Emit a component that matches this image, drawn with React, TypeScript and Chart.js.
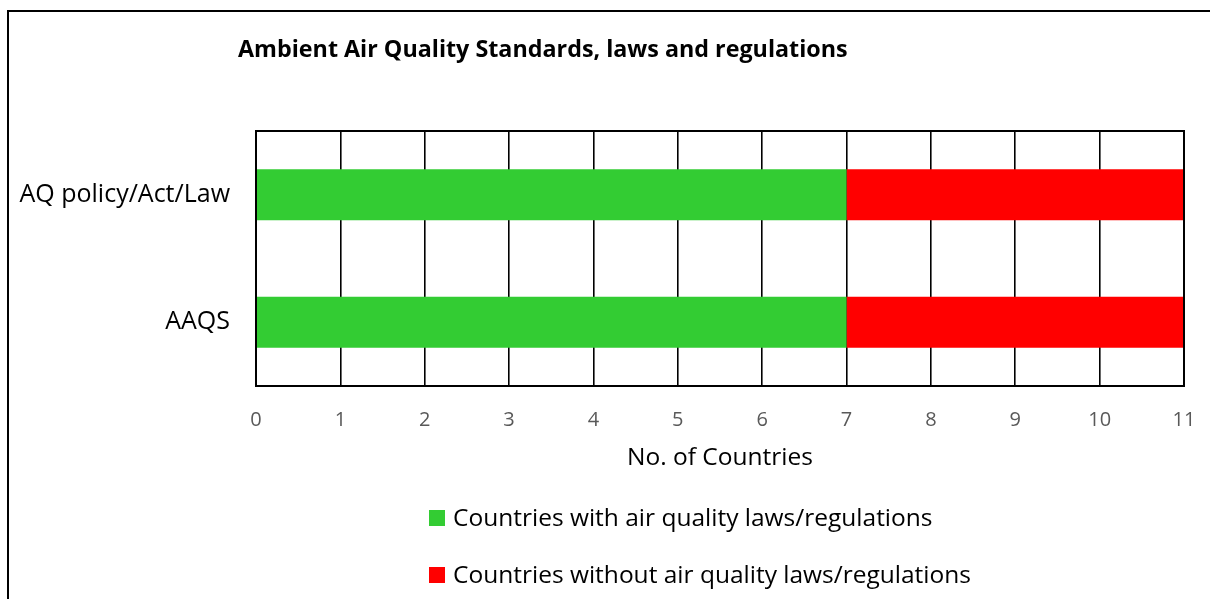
import React, { useEffect, useRef } from "react";
import { Chart, registerables } from "chart.js";

Chart.register(...registerables);

const categories = ["AQ policy/Act/Law", "AAQS"];
const withLaws = [7, 7];
const withoutLaws = [4, 4];
const seriesLabels = [
  "Countries with air quality laws/regulations",
  "Countries without air quality laws/regulations",
];
const seriesColors = ["#33CC33", "#FF0000"];
const chartTitle = "Ambient Air Quality Standards, laws and regulations";
const xAxisTitle = "No. of Countries";
const xMin = 0;
const xMax = 11;

const FONT = "'Open Sans', Lato, sans-serif";

const framePlugin = {
  id: "frame",
  afterDraw(chart: any) {
    const { ctx, chartArea } = chart;
    ctx.save();
    ctx.strokeStyle = "#000";
    ctx.lineWidth = 2;
    ctx.strokeRect(chartArea.left, chartArea.top, chartArea.right - chartArea.left, chartArea.bottom - chartArea.top);
    ctx.restore();
  },
};

const titlePlugin = {
  id: "customTitle",
  afterDraw(chart: any) {
    const { ctx } = chart;
    ctx.save();
    ctx.fillStyle = "#000";
    ctx.font = `bold 23.3px ${FONT}`;
    ctx.textBaseline = "alphabetic";
    ctx.textAlign = "left";
    ctx.fillText(chartTitle, 229, 45);
    ctx.restore();
  },
};

const legendPlugin = {
  id: "customLegend",
  afterDraw(chart: any) {
    const { ctx } = chart;
    ctx.save();
    const left = 420;
    const firstCenter = 506;
    const rowGap = 57;
    const box = 16;
    chart.data.datasets.forEach((ds: any, i: number) => {
      const cy = firstCenter + i * rowGap;
      ctx.fillStyle = ds.backgroundColor;
      ctx.fillRect(left, cy - box / 2, box, box);
      ctx.fillStyle = "#000";
      ctx.font = `24.5px ${FONT}`;
      ctx.textBaseline = "middle";
      ctx.textAlign = "left";
      ctx.fillText(ds.label, left + 24, cy + 1);
    });
    ctx.restore();
  },
};

export default function App() {
  const ref = useRef<HTMLCanvasElement>(null);

  useEffect(() => {
    if (!ref.current) return;
    const chart = new Chart(ref.current, {
      type: "bar",
      data: {
        labels: categories,
        datasets: [
          {
            label: seriesLabels[0],
            data: withLaws,
            backgroundColor: seriesColors[0],
            barPercentage: 0.4,
            categoryPercentage: 1,
          },
          {
            label: seriesLabels[1],
            data: withoutLaws,
            backgroundColor: seriesColors[1],
            barPercentage: 0.4,
            categoryPercentage: 1,
          },
        ],
      },
      options: {
        indexAxis: "y",
        responsive: false,
        animation: false,
        devicePixelRatio: 1,
        layout: { padding: { top: 119, right: 26, left: 0, bottom: 126 } },
        plugins: {
          legend: { display: false },
          title: { display: false },
          tooltip: { enabled: false },
        },
        scales: {
          x: {
            stacked: true,
            min: xMin,
            max: xMax,
            afterFit: (scale: any) => {
              scale.height = 87;
            },
            ticks: {
              stepSize: 1,
              color: "#595959",
              font: { family: FONT, size: 20 },
              padding: 2,
            },
            grid: {
              color: "#000",
              lineWidth: 1.6,
              drawTicks: true,
              tickLength: 20,
              tickColor: "rgba(0,0,0,0)",
            },
            border: { display: false },
            title: {
              display: true,
              text: xAxisTitle,
              color: "#000",
              font: { family: FONT, size: 24.5 },
              padding: 0,
            },
          },
          y: {
            stacked: true,
            afterFit: (scale: any) => {
              scale.width = 247;
            },
            ticks: {
              color: "#000",
              font: { family: FONT, size: 25 },
              padding: 26,
            },
            grid: { display: false, drawTicks: false },
            border: { display: false },
          },
        },
      },
      plugins: [framePlugin, titlePlugin, legendPlugin],
    });
    return () => chart.destroy();
  }, []);

  return (
    <div style={{ position: "fixed", inset: 0, overflow: "hidden", background: "#fff" }}>
      <div
        style={{
          position: "absolute",
          left: 7,
          top: 10,
          width: 1400,
          height: 800,
          border: "2px solid #000",
          background: "#fff",
        }}
      >
        <canvas ref={ref} width={1201} height={587} style={{ display: "block" }} />
      </div>
    </div>
  );
}
